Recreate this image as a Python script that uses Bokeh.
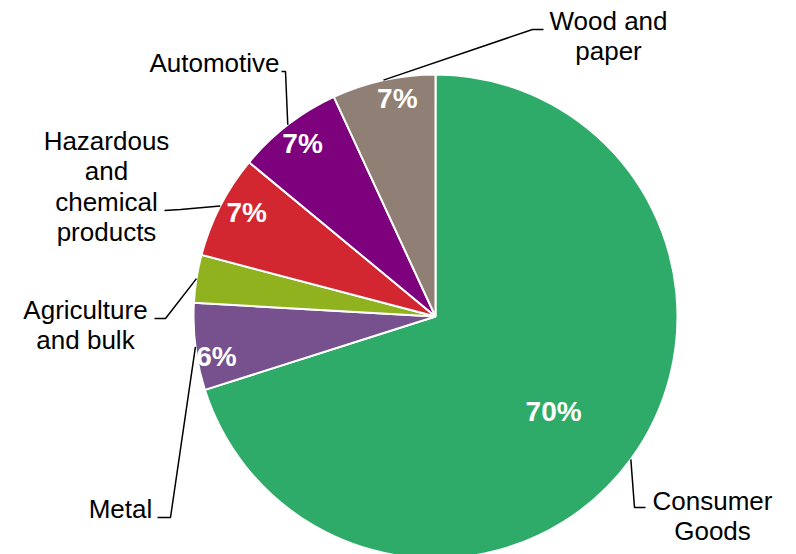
import math
from bokeh.plotting import figure
from bokeh.models import Range1d, ColumnDataSource
from bokeh.core.properties import value
from bokeh.embed import file_html
from bokeh.resources import INLINE

# ---- data ----
categories = ["Consumer Goods", "Metal", "Agriculture and bulk",
              "Hazardous and chemical products", "Automotive", "Wood and paper"]
shares = [70.1, 5.8, 3.2, 6.9, 7.1, 6.9]
pct_labels = ["70%", "6%", "", "7%", "7%", "7%"]
colors = ["#2EAB69", "#76518E", "#8FB21E", "#D22630", "#7D007D", "#8F7F75"]

# ---- layout (pixel space, y measured from top) ----
W, H = 796, 554
CX, CY, R = 435, 316, 242
label_r = [0.626, 0.92, 0.9, 0.89, 0.90, 0.915]
label_dang = [-2.6, 3.2, 0.0, -1.6, 0.0, -2.5]   # degrees
label_lines = [["Consumer", "Goods"], ["Metal"], ["Agriculture", "and bulk"],
               ["Hazardous", "and", "chemical", "products"], ["Automotive"],
               ["Wood and", "paper"]]
label_pos = [(712, 500), (120, 508), (85, 309), (106, 140), (214, 62), (608, 20)]
line_gap = 30.5
leader_pts = [[(634, 507), (645, 507)], [(170, 517), (157, 517)],
              [(165, 318), (154, 318)], [(180, 209), (164, 210)],
              [(285, 71), (281, 71)], [(532, 29), (543, 29)]]

def fy(y):
    return H - y

p = figure(width=W, height=H, output_backend="svg", toolbar_location=None,
           x_range=Range1d(0, W), y_range=Range1d(0, H), min_border=0)
p.axis.visible = False
p.grid.visible = False
p.outline_line_color = None
p.background_fill_color = "white"
p.border_fill_color = "white"

total = sum(shares)
starts, ends, mids = [], [], []
cum = 0.0
for s in shares:
    a0 = math.pi / 2 - 2 * math.pi * cum / total
    cum += s
    a1 = math.pi / 2 - 2 * math.pi * cum / total
    starts.append(a0)
    ends.append(a1)
    mids.append((a0 + a1) / 2)

src = ColumnDataSource(dict(start=starts, end=ends, color=colors, cat=categories))
p.wedge(x=CX, y=fy(CY), radius=R, start_angle="start", end_angle="end",
        direction="clock", fill_color="color", line_color="white", line_width=2,
        source=src)

# percentage labels
tx, ty, tt = [], [], []
for m, f, d, t in zip(mids, label_r, label_dang, pct_labels):
    if t:
        a = m + math.radians(d)
        tx.append(CX + f * R * math.cos(a))
        ty.append(fy(CY) + f * R * math.sin(a))
        tt.append(t)
p.text(x=tx, y=ty, text=tt, text_color="white", text_font=value("Liberation Sans"),
       text_font_style="bold", text_font_size="28px", text_align="center",
       text_baseline="middle")

# leader lines
xs, ys = [], []
for m, pts in zip(mids, leader_pts):
    lx = [CX + R * math.cos(m)] + [q[0] for q in pts]
    ly = [fy(CY) + R * math.sin(m)] + [fy(q[1]) for q in pts]
    xs.append(lx)
    ys.append(ly)
p.multi_line(xs=xs, ys=ys, line_color="black", line_width=1.5)

# category labels
cx_, cy_, ct_ = [], [], []
for lines, (lx, ly) in zip(label_lines, label_pos):
    for i, ln in enumerate(lines):
        cx_.append(lx)
        cy_.append(fy(ly + i * line_gap))
        ct_.append(ln)
p.text(x=cx_, y=cy_, text=ct_, text_color="black", text_font=value("Liberation Sans"),
       text_font_size="26px", text_align="center", text_baseline="middle")

open("out.html", "w").write(file_html(p, INLINE))
